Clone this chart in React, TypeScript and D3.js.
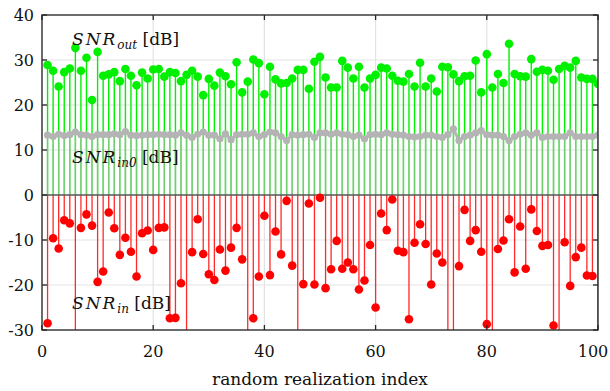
import * as d3 from "d3";

// index 1..100
const snrOut = [
  28.9, 27.6, 24.1, 27.3, 28.1, 32.7, 27.6, 30.5, 21.1, 31.8,
  26.5, 26.8, 27.3, 25.3, 28.0, 26.5, 24.4, 27.2, 25.9, 27.9,
  28.0, 26.3, 27.3, 27.1, 25.3, 26.7, 27.6, 26.3, 22.2, 25.8,
  24.3, 27.2, 26.4, 24.6, 29.5, 22.8, 25.2, 30.1, 29.3, 22.4,
  28.5, 25.7, 24.8, 24.9, 25.9, 27.8, 27.8, 23.6, 29.6, 30.7,
  26.1, 23.9, 23.9, 29.8, 28.3, 25.9, 28.5, 23.9, 25.9, 26.7,
  28.3, 28.1, 26.5, 25.4, 25.2, 26.9, 24.1, 29.4, 24.1, 25.9,
  23.0, 28.5, 28.4, 26.8, 25.3, 26.4, 26.5, 29.9, 22.8, 31.3,
  23.9, 26.9, 24.9, 33.6, 26.9, 26.4, 26.3, 30.2, 27.4, 27.8,
  27.6, 25.6, 28.0, 28.7, 28.3, 29.8, 26.1, 25.8, 25.8, 24.7,
];

const snrIn0 = [
  13.3, 13.0, 13.5, 13.2, 13.4, 14.0, 13.4, 13.3, 13.0, 13.4,
  13.4, 13.4, 13.6, 13.4, 14.1, 13.3, 13.2, 13.3, 13.4, 13.4,
  13.5, 13.4, 13.4, 13.3, 13.8, 13.3, 12.8, 13.5, 14.0, 13.3,
  13.3, 12.5, 13.6, 12.3, 13.4, 13.5, 13.5, 13.8, 13.0, 13.4,
  14.0, 13.8, 13.0, 12.1, 13.4, 13.3, 13.4, 13.5, 12.8, 13.8,
  13.8, 13.5, 13.8, 13.5, 13.4, 13.0, 13.3, 12.5, 13.4, 13.5,
  13.4, 13.8, 13.5, 13.4, 13.3, 13.0, 12.9, 13.0, 13.3, 13.3,
  13.0, 12.8, 13.4, 14.7, 12.1, 13.0, 13.3, 13.8, 14.3, 13.4,
  13.3, 13.3, 13.0, 12.1, 13.0, 13.5, 13.8, 13.3, 13.8, 12.8,
  13.0, 13.0, 13.0, 13.0, 13.8, 13.0, 13.0, 13.0, 13.0, 13.3,
];

// values below -30 are off the axis (only the stem shows)
const snrIn = [
  -28.5, -9.6, -11.9, -5.6, -6.3, -34, -7.3, -4.3, -6.8, -19.3,
  -17.0, -3.9, -7.4, -13.3, -9.5, -12.6, -18.1, -8.5, -7.9, -12.2,
  -7.3, -7.2, -27.4, -27.3, -19.6, -34, -12.7, -5.4, -13.1, -17.6,
  -18.9, -12.1, -16.8, -11.7, -7.3, -14.3, -34, -27.4, -18.1, -4.6,
  -17.8, -8.1, -13.2, -1.3, -15.7, -34, -19.8, -1.9, -19.9, -0.6,
  -20.7, -16.5, -10.2, -16.4, -15.0, -16.5, -21.0, -19.0, -11.1, -25.0,
  -4.1, -7.8, -1.0, -12.4, -12.7, -27.6, -10.6, -6.5, -10.9, -19.9,
  -13.0, -15.0, -34, -34, -15.8, -3.3, -10.2, -7.8, -12.6, -28.7,
  -34, -12.0, -10.1, -5.4, -17.2, -7.0, -16.4, -3.2, -8.0, -11.3,
  -11.1, -29.0, -34, -10.5, -20.2, -13.8, -11.7, -17.9, -18.0, -34,
];

const xTicks = [0, 20, 40, 60, 80, 100];
const yTicks = [-30, -20, -10, 0, 10, 20, 30, 40];

const W = 610;
const H = 391;
const left = 42;
const right = 598;
const top = 15;
const bottom = 330;

const font = "'DejaVu Serif', serif";

export default function App() {
  const x = d3.scaleLinear().domain([0, 100]).range([left, right]);
  const y = d3.scaleLinear().domain([-30, 40]).range([bottom, top]);
  const idx = snrOut.map((_, i) => i + 1);
  const grayLine = d3
    .line<number>()
    .x((_, i) => x(i + 1))
    .y((d) => y(d));

  const mathLabel = (sub: string, yy: number) => (
    <text x={72} y={yy} style={{ fontFamily: font, fontSize: 17 }} fill="#111">
      <tspan fontStyle="italic" letterSpacing={2}>SNR</tspan>
      <tspan fontStyle="italic" style={{ fontSize: 12 }} dy={4}>{sub}</tspan>
      <tspan dy={-4}>{"\u00a0[dB]"}</tspan>
    </text>
  );

  return (
    <svg
      width={W}
      height={H}
      style={{ position: "absolute", left: 0, top: 0, background: "#fff" }}
    >
      <defs>
        <clipPath id="plot">
          <rect x={left} y={top} width={right - left} height={bottom - top} />
        </clipPath>
      </defs>
      {/* grid */}
      {xTicks.map((t) => (
        <line key={"gx" + t} x1={x(t)} x2={x(t)} y1={top} y2={bottom} stroke="#e3e3e3" strokeWidth={1.2} />
      ))}
      {yTicks.map((t) => (
        <line key={"gy" + t} x1={left} x2={right} y1={y(t)} y2={y(t)} stroke="#e3e3e3" strokeWidth={1.2} />
      ))}

      <g clipPath="url(#plot)">
        {/* green stems */}
        {idx.map((i, k) => (
          <line key={"gs" + i} x1={x(i)} x2={x(i)} y1={y(0)} y2={y(snrOut[k])} stroke="#00f000" strokeWidth={1.4} />
        ))}
        {/* gray stems on top of green */}
        {idx.map((i, k) => (
          <line key={"ys" + i} x1={x(i)} x2={x(i)} y1={y(0)} y2={y(snrIn0[k])} stroke="rgba(185,185,185,0.6)" strokeWidth={1.6} />
        ))}
        {/* red stems */}
        {idx.map((i, k) => (
          <line key={"rs" + i} x1={x(i)} x2={x(i)} y1={y(0)} y2={y(snrIn[k])} stroke="#ff2a2a" strokeWidth={1.3} />
        ))}
        {/* baseline */}
        <line x1={left} x2={right} y1={y(0)} y2={y(0)} stroke="#5a5a5a" strokeWidth={1.6} />
        {/* gray line and markers */}
        <path d={grayLine(snrIn0) ?? ""} fill="none" stroke="#b4b4b4" strokeWidth={3} />
        {idx.map((i, k) => (
          <circle key={"gm" + i} cx={x(i)} cy={y(snrIn0[k])} r={3.6} fill="#b4b4b4" />
        ))}
        {idx.map((i, k) => (
          <circle key={"om" + i} cx={x(i)} cy={y(snrOut[k])} r={4.3} fill="#00f000" />
        ))}
        {idx.map((i, k) =>
          snrIn[k] >= -30 ? (
            <circle key={"rm" + i} cx={x(i)} cy={y(snrIn[k])} r={4.3} fill="#ff0000" />
          ) : null,
        )}
      </g>

      {/* axes box */}
      <rect x={left} y={top} width={right - left} height={bottom - top} fill="none" stroke="#262626" strokeWidth={1.3} />
      {xTicks.map((t) => (
        <g key={"xt" + t}>
          <line x1={x(t)} x2={x(t)} y1={bottom} y2={bottom - 5} stroke="#262626" strokeWidth={1.3} />
          <line x1={x(t)} x2={x(t)} y1={top} y2={top + 5} stroke="#262626" strokeWidth={1.3} />
          <text
            x={Math.min(x(t), W - 17)}
            y={bottom + 27}
            textAnchor="middle"
            style={{ fontFamily: font, fontSize: 16 }}
            fill="#111"
          >
            {t}
          </text>
        </g>
      ))}
      {yTicks.map((t) => (
        <g key={"yt" + t}>
          <line x1={left} x2={left + 5} y1={y(t)} y2={y(t)} stroke="#262626" strokeWidth={1.3} />
          <line x1={right} x2={right - 5} y1={y(t)} y2={y(t)} stroke="#262626" strokeWidth={1.3} />
          <text x={left - 8} y={y(t) + 6} textAnchor="end" style={{ fontFamily: font, fontSize: 16 }} fill="#111">
            {t}
          </text>
        </g>
      ))}

      {mathLabel("out", 45)}
      {mathLabel("in0", 163)}
      {mathLabel("in", 309)}

      <text x={(left + right) / 2} y={385} textAnchor="middle" style={{ fontFamily: font, fontSize: 17 }} fill="#111">
        random realization index
      </text>
    </svg>
  );
}
